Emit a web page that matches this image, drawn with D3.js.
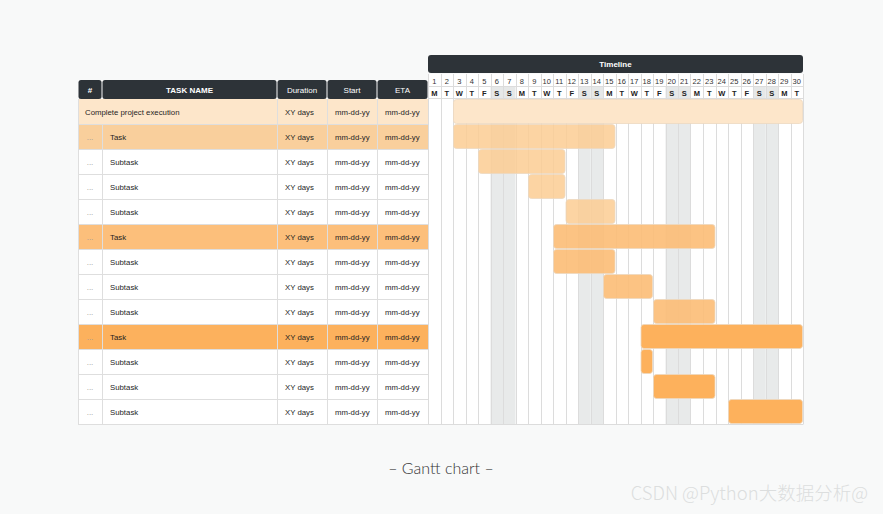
<!DOCTYPE html>
<html><head><meta charset="utf-8">
<script src="https://cdn.jsdelivr.net/npm/d3@7"></script>
<style>
html,body{margin:0;padding:0;background:#f8f9f9;}
svg{display:block;}
</style></head>
<body>
<svg id="chart" width="883" height="514"></svg>
<script>
// ---- data ----
const taskNames = ["Complete project execution","Task","Subtask","Subtask","Subtask","Task","Subtask","Subtask","Subtask","Task","Subtask","Subtask","Subtask"];
const taskIds   = ["","...","...","...","...","...","...","...","...","...","...","...","..."];
const durations = ["XY days","XY days","XY days","XY days","XY days","XY days","XY days","XY days","XY days","XY days","XY days","XY days","XY days"];
const starts    = ["mm-dd-yy","mm-dd-yy","mm-dd-yy","mm-dd-yy","mm-dd-yy","mm-dd-yy","mm-dd-yy","mm-dd-yy","mm-dd-yy","mm-dd-yy","mm-dd-yy","mm-dd-yy","mm-dd-yy"];
const etas      = ["mm-dd-yy","mm-dd-yy","mm-dd-yy","mm-dd-yy","mm-dd-yy","mm-dd-yy","mm-dd-yy","mm-dd-yy","mm-dd-yy","mm-dd-yy","mm-dd-yy","mm-dd-yy","mm-dd-yy"];
const groups    = [0,1,1,1,1,2,2,2,2,3,3,3,3];      // colour group
const isTask    = [true,true,false,false,false,true,false,false,false,true,false,false,false];
const startDay  = [3,3,5,9,12,11,11,15,19,18,18,19,25];
const endDay    = [30,15,11,11,15,23,15,18,23,30,18,23,30];
const dayNumbers = d3.range(1,31);
const dayLetters = ["M","T","W","T","F","S","S","M","T","W","T","F","S","S","M","T","W","T","F","S","S","M","T","W","T","F","S","S","M","T"];
const columns = ["#","TASK NAME","Duration","Start","ETA"];
const columnWidths = [24,175,50,50,51];
const groupRowColors = ["#fde6ca","#f9cf9c","#fcbf7b","#fcb15d"];
const groupBarColors = ["#fde6ca","#fbcd93","#fcbd76","#fdb15c"];
const groupBarOpacity = [1,0.85,0.9,1];

// ---- layout ----
const svg = d3.select("#chart");
const tableX = 78, headerY = 80, headerH = 19, bodyY = 99, rowH = 25;
const tlX0 = 428, tlX1 = 803;
const FONT = "'Liberation Sans', Arial, Helvetica, sans-serif";

const rows = d3.range(taskNames.length);
const y = d3.scaleBand().domain(rows).range([bodyY, bodyY + rowH*rows.length]).padding(0);
const x = d3.scaleLinear().domain([1, 31]).range([tlX0, tlX1]);
const bodyBottom = bodyY + rowH*rows.length;

const colX = [];
columnWidths.reduce((acc,w,i)=>{colX[i]=acc; return acc+w;}, tableX);

// ---- table ----
const table = svg.append("g");
columns.forEach((c,i)=>{
  table.append("rect").attr("x",colX[i]+0.5).attr("y",headerY).attr("width",columnWidths[i]-1).attr("height",headerH)
    .attr("rx",2.5).attr("fill","#2d3338");
  table.append("text").attr("x",colX[i]+columnWidths[i]/2).attr("y",headerY+headerH/2+3)
    .attr("text-anchor","middle").attr("fill","#fff").attr("font-family",FONT).attr("font-size",8)
    .attr("font-weight", i===1 || i===0 ? "bold" : "normal").text(c);
});
const tableW = d3.sum(columnWidths);
rows.forEach(r=>{
  const fill = isTask[r] ? groupRowColors[groups[r]] : "#ffffff";
  table.append("rect").attr("x",tableX).attr("y",y(r)).attr("width",tableW).attr("height",rowH).attr("fill",fill);
});
rows.forEach(r=>{
  table.append("line").attr("x1",tableX).attr("x2",tlX0).attr("y1",y(r)+rowH+0.5).attr("y2",y(r)+rowH+0.5)
    .attr("stroke", "#dedede").attr("stroke-width",1);
});
table.append("line").attr("x1",tableX+0.5).attr("x2",tableX+0.5).attr("y1",bodyY).attr("y2",bodyBottom+0.5).attr("stroke","#dedede");
colX.forEach((cx,i)=>{
  if(i===0) return;
  table.append("line").attr("x1",cx+0.5).attr("x2",cx+0.5)
    .attr("y1", i===1 ? bodyY+rowH : bodyY).attr("y2",bodyBottom).attr("stroke","#dedede");
});
const bodyText = (tx,ty,t,anchor)=>table.append("text").attr("x",tx).attr("y",ty).attr("fill","#1e1e1e")
   .attr("font-family",FONT).attr("font-size",7.8).attr("text-anchor",anchor||"start").text(t);
rows.forEach(r=>{
  const cy = y(r)+rowH/2+3;
  if(r===0){
    bodyText(colX[0]+7, cy, taskNames[r]);
  } else {
    table.append("text").attr("x",colX[0]+columnWidths[0]/2).attr("y",cy).attr("text-anchor","middle")
      .attr("fill","#999").attr("font-family",FONT).attr("font-size",8).text(taskIds[r]);
    bodyText(colX[1]+8, cy, taskNames[r]);
  }
  bodyText(colX[2]+8, cy, durations[r]);
  bodyText(colX[3]+8, cy, starts[r]);
  bodyText(colX[4]+8, cy, etas[r]);
});

// ---- timeline ----
const tl = svg.append("g");
tl.append("rect").attr("x",tlX0).attr("y",55).attr("width",tlX1-tlX0).attr("height",18).attr("rx",3).attr("fill","#2d3338");
tl.append("text").attr("x",(tlX0+tlX1)/2).attr("y",67).attr("text-anchor","middle").attr("fill","#fff")
  .attr("font-family",FONT).attr("font-size",8).attr("font-weight","bold").text("Timeline");

const isWeekend = d => dayLetters[d-1]==="S";
tl.append("rect").attr("x",tlX0).attr("y",74).attr("width",tlX1-tlX0).attr("height",24).attr("fill","#fff");
tl.append("rect").attr("x",tlX0).attr("y",bodyY).attr("width",tlX1-tlX0).attr("height",bodyBottom-bodyY).attr("fill","#fff");
dayNumbers.forEach(d=>{
  if(isWeekend(d)){
    tl.append("rect").attr("x",x(d)).attr("y",86).attr("width",x(d+1)-x(d)).attr("height",12).attr("fill","#e6e8e8");
    tl.append("rect").attr("x",x(d)).attr("y",bodyY).attr("width",x(d+1)-x(d)).attr("height",bodyBottom-bodyY).attr("fill","#e8eaea");
  }
});
tl.selectAll("line.v").data(d3.range(1,32)).join("line")
  .attr("x1",d=>Math.round(x(d))+0.5).attr("x2",d=>Math.round(x(d))+0.5)
  .attr("y1",74).attr("y2",bodyBottom).attr("stroke","#dcdcdc");
tl.append("line").attr("x1",tlX0).attr("x2",tlX1).attr("y1",86.5).attr("y2",86.5).attr("stroke","#dcdcdc");
tl.append("line").attr("x1",tlX0).attr("x2",tlX1+0.5).attr("y1",98.5).attr("y2",98.5).attr("stroke","#dcdcdc");
tl.append("line").attr("x1",tlX0).attr("x2",tlX1+0.5).attr("y1",bodyBottom+0.5).attr("y2",bodyBottom+0.5).attr("stroke","#dcdcdc");
dayNumbers.forEach(d=>{
  const cx = (x(d)+x(d+1))/2;
  tl.append("text").attr("x",cx).attr("y",84).attr("text-anchor","middle").attr("fill","#333")
    .attr("font-family",FONT).attr("font-size",7.5).text(dayNumbers[d-1]);
  tl.append("text").attr("x",cx).attr("y",96).attr("text-anchor","middle").attr("fill","#222")
    .attr("font-family",FONT).attr("font-size",7.5).attr("font-weight","bold").text(dayLetters[d-1]);
});

tl.selectAll("rect.bar").data(rows).join("rect").attr("class","bar")
  .attr("x",r=>x(startDay[r])+0.5).attr("y",r=>y(r)+0.5)
  .attr("width",r=>x(endDay[r]+1)-x(startDay[r])-1).attr("height",rowH-1)
  .attr("rx",3)
  .attr("fill",r=>groupBarColors[groups[r]]).attr("fill-opacity",r=>groupBarOpacity[groups[r]])
  .attr("stroke","#ecd8c0").attr("stroke-width",0.8);

// ---- caption & watermark ----
svg.append("text").attr("x",441).attr("y",474).attr("text-anchor","middle").attr("fill","#333")
  .attr("font-family","Lato, 'Open Sans', sans-serif").attr("font-weight",300).attr("font-size",16).text("– Gantt chart –");
svg.append("text").attr("x",868).attr("y",500).attr("text-anchor","end").attr("fill","#dcdede")
  .attr("font-family","'Noto Sans CJK SC', 'Noto Sans', sans-serif").attr("font-weight",300).attr("font-size",18.5).text("CSDN @Python大数据分析@");
</script>
</body></html>
